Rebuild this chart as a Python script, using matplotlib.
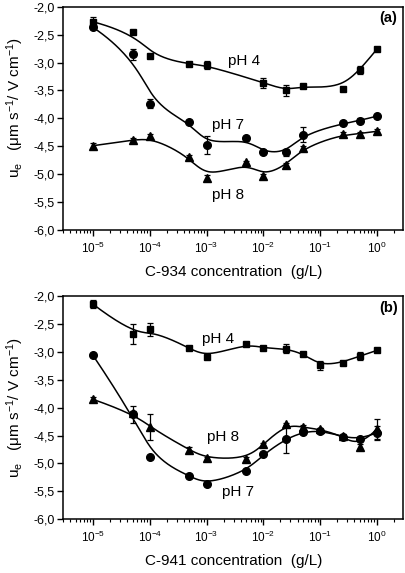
import numpy as np
import matplotlib
matplotlib.use("Agg")
import matplotlib.pyplot as plt
from matplotlib.ticker import FuncFormatter, LogLocator, MultipleLocator, FixedLocator

plt.rcParams['font.family'] = ['Liberation Sans', 'DejaVu Sans']
plt.rcParams['mathtext.fontset'] = 'custom'
plt.rcParams['mathtext.rm'] = 'Liberation Sans'
plt.rcParams['mathtext.it'] = 'Liberation Sans:italic'
plt.rcParams['mathtext.default'] = 'regular'
plt.rcParams['axes.unicode_minus'] = False

# concentrations (g/L)
conc_a = [1e-5, 5e-5, 1e-4, 5e-4, 1e-3, 5e-3, 1e-2, 2.5e-2, 5e-2, 2.5e-1, 5e-1, 1.0]
conc_a_ph4 = [1e-5, 5e-5, 1e-4, 5e-4, 1e-3, 1e-2, 2.5e-2, 5e-2, 2.5e-1, 5e-1, 1.0]
conc_b = [1e-5, 5e-5, 1e-4, 5e-4, 1e-3, 5e-3, 1e-2, 2.5e-2, 5e-2, 1e-1, 2.5e-1, 5e-1, 1.0]
decades = [1e-5, 1e-4, 1e-3, 1e-2, 1e-1, 1.0]

# panel (a) C-934
a_ph4 = [-2.27, -2.46, -2.88, -3.03, -3.05, -3.36, -3.50, -3.42, -3.47, -3.13, -2.76]
a_ph4_err = [0.08, 0.03, 0.03, 0.03, 0.07, 0.09, 0.10, 0.03, 0.03, 0.07, 0.03]
a_ph7 = [-2.37, -2.85, -3.74, -4.06, -4.48, -4.36, -4.61, -4.61, -4.29, -4.09, -4.04, -3.96]
a_ph7_err = [0.03, 0.10, 0.08, 0.03, 0.16, 0.02, 0.02, 0.06, 0.13, 0.03, 0.05, 0.02]
a_ph8 = [-4.49, -4.39, -4.32, -4.69, -5.07, -4.79, -5.03, -4.84, -4.53, -4.28, -4.28, -4.23]
a_ph8_err = [0.04, 0.04, 0.04, 0.04, 0.05, 0.03, 0.04, 0.04, 0.04, 0.04, 0.04, 0.04]

# panel (b) C-941
b_ph4 = [-2.14, -2.68, -2.59, -2.93, -3.09, -2.85, -2.93, -2.94, -3.03, -3.24, -3.19, -3.07, -2.97]
b_ph4_err = [0.07, 0.18, 0.12, 0.03, 0.03, 0.03, 0.03, 0.08, 0.03, 0.08, 0.03, 0.07, 0.03]
b_ph7 = [-3.06, -4.12, -4.88, -5.23, -5.38, -5.14, -4.84, -4.56, -4.44, -4.41, -4.52, -4.57, -4.45]
b_ph7_err = [0.02, 0.15, 0.02, 0.02, 0.03, 0.02, 0.03, 0.25, 0.03, 0.03, 0.03, 0.03, 0.13]
b_ph8 = [-3.85, -4.10, -4.35, -4.76, -4.91, -4.92, -4.66, -4.30, -4.35, -4.39, -4.51, -4.70, -4.38]
b_ph8_err = [0.05, 0.04, 0.23, 0.05, 0.03, 0.04, 0.03, 0.03, 0.04, 0.03, 0.03, 0.04, 0.18]


def bspline(xs, ys, num=400):
    # clamped uniform cubic B-spline with the data as control points (log x)
    px = np.log10(np.asarray(xs, float))
    py = np.asarray(ys, float)
    n, k = len(px), 3
    knots = np.concatenate([np.zeros(k), np.arange(n - k + 1), np.full(k, n - k)]).astype(float)
    t = np.linspace(0, n - k, num)
    t[-1] -= 1e-9
    B = np.zeros((num, len(knots) - 1))
    for i in range(len(knots) - 1):
        B[:, i] = (knots[i] <= t) & (t < knots[i + 1])
    for d in range(1, k + 1):
        Bn = np.zeros((num, len(knots) - 1 - d))
        for i in range(len(knots) - 1 - d):
            col = np.zeros(num)
            den1 = knots[i + d] - knots[i]
            if den1 > 0:
                col += (t - knots[i]) / den1 * B[:, i]
            den2 = knots[i + d + 1] - knots[i + 1]
            if den2 > 0:
                col += (knots[i + d + 1] - t) / den2 * B[:, i + 1]
            Bn[:, i] = col
        B = Bn
    return 10 ** (B @ px), B @ py


def series(ax, xs, ys, err, marker, ms):
    cx, cy = bspline(xs, ys)
    ax.plot(cx, cy, color='black', lw=1.1, zorder=2)
    ax.errorbar(xs, ys, yerr=err, fmt=marker, color='black', ms=ms,
                capsize=2.5, elinewidth=0.9, capthick=0.9, zorder=3)


def style(ax, xlabel, tag, ylab_y):
    ax.set_xscale('log')
    ax.set_xlim(10 ** -5.528, 10 ** 0.467)
    ax.set_ylim(-6.0, -2.0)
    ax.yaxis.set_major_locator(MultipleLocator(0.5))
    ax.yaxis.set_major_formatter(FuncFormatter(lambda v, p: f"{v:.1f}".replace('.', ',')))
    ax.xaxis.set_major_locator(FixedLocator(decades))
    ax.xaxis.set_minor_locator(LogLocator(base=10, subs=np.arange(2, 10), numticks=10))
    ax.tick_params(axis='both', which='both', direction='out', top=False, right=False)
    ax.tick_params(axis='y', which='major', length=4, width=1, labelsize=9, pad=2)
    ax.tick_params(axis='x', which='major', length=4, width=1, labelsize=8.5, pad=4)
    ax.tick_params(axis='x', which='minor', length=2.5, width=0.8, labelbottom=False)
    for s in ax.spines.values():
        s.set_linewidth(1.1)
    ax.set_xlabel(xlabel, fontsize=11)
    ax.xaxis.set_label_coords(0.5, -0.155)
    ax.set_ylabel(r'u$_e$   ($\mu$m s$^{-1}$/ V cm$^{-1}$)', fontsize=11)
    ax.yaxis.set_label_coords(-0.108, ylab_y)
    ax.text(0.955, 0.95, tag, transform=ax.transAxes, fontsize=10.5, fontweight='bold',
            ha='center', va='center')


fig = plt.figure(figsize=(4.06, 5.73), dpi=100)
ax_a = fig.add_axes([63 / 406, 343 / 573, 340.5 / 406, 223.3 / 573])
ax_b = fig.add_axes([63 / 406, 54 / 573, 340.5 / 406, 222.6 / 573])

series(ax_a, conc_a_ph4, a_ph4, a_ph4_err, 's', 5)
series(ax_a, conc_a, a_ph7, a_ph7_err, 'o', 5.5)
series(ax_a, conc_a, a_ph8, a_ph8_err, '^', 6)
style(ax_a, 'C-934 concentration  (g/L)', '(a)', 0.55)
ax_a.text(0.532, 0.757, 'pH 4', transform=ax_a.transAxes, fontsize=11, ha='center', va='center')
ax_a.text(0.485, 0.47, 'pH 7', transform=ax_a.transAxes, fontsize=11, ha='center', va='center')
ax_a.text(0.485, 0.157, 'pH 8', transform=ax_a.transAxes, fontsize=11, ha='center', va='center')

series(ax_b, conc_b, b_ph4, b_ph4_err, 's', 5)
series(ax_b, conc_b, b_ph7, b_ph7_err, 'o', 5.5)
series(ax_b, conc_b, b_ph8, b_ph8_err, '^', 6)
style(ax_b, 'C-941 concentration  (g/L)', '(b)', 0.5)
ax_b.text(0.455, 0.81, 'pH 4', transform=ax_b.transAxes, fontsize=11, ha='center', va='center')
ax_b.text(0.47, 0.37, 'pH 8', transform=ax_b.transAxes, fontsize=11, ha='center', va='center')
ax_b.text(0.514, 0.123, 'pH 7', transform=ax_b.transAxes, fontsize=11, ha='center', va='center')

fig.savefig('out.png', dpi=100)
